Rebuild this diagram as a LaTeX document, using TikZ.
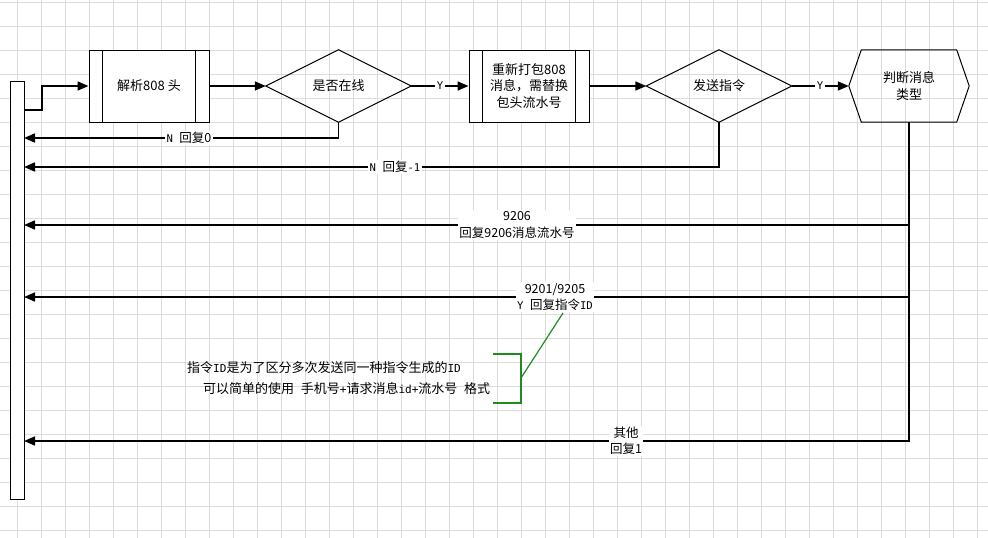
\documentclass[tikz,border=0pt]{standalone}
\usepackage{fontspec}
\setmainfont{Noto Sans CJK SC}
\newfontfamily\latn[Scale=0.85]{DejaVu Sans Mono}
\newcommand\lt[1]{{\latn #1}}
\usetikzlibrary{arrows.meta}
\definecolor{gridc}{RGB}{220,220,220}
\definecolor{notegreen}{RGB}{30,140,30}
\begin{document}
\begin{tikzpicture}[x=1pt,y=-1pt,
  font=\fontsize{13}{16.5}\selectfont,
  shapeline/.style={draw=black, line width=1pt},
  proc/.style={shapeline, fill=white, minimum width=120pt, minimum height=72pt, inner sep=0pt, align=center},
  dia/.style={minimum width=145pt, minimum height=72pt, inner sep=0pt, align=center},
  hexb/.style={minimum width=120pt, minimum height=72pt, inner sep=0pt, align=center},
  conn/.style={line width=1.6pt, -{Triangle[length=11pt,width=9pt]}},
  lbl/.style={fill=white, inner sep=1.5pt, align=center, font=\fontsize{12.5}{16.5}\selectfont},
]
% page and background grid
\useasboundingbox (0,0) rectangle (988,538);
\fill[white] (0,0) rectangle (988,538);
\foreach \i in {0,...,40}
  \draw[gridc, line width=0.8pt] ({17.5+24*\i},0) -- ({17.5+24*\i},538);
\foreach \j in {0,...,22}
  \draw[gridc, line width=0.8pt] (0,{2+24*\j}) -- (988,{2+24*\j});

% lifeline bar on the left
\node[shapeline, fill=white, minimum width=14pt, minimum height=418pt, inner sep=0pt] (bar) at (17,290) {};
\coordinate (s0) at (24,110);
\coordinate (r0) at (24,138);
\coordinate (r1) at (24,167);
\coordinate (r2) at (24,225);
\coordinate (r3) at (24,297);
\coordinate (r4) at (24,441);

% process boxes
\node[proc] (b1) at (149,86) {解析808 头};
\node[proc] (b2) at (529,86) {重新打包808\\消息，需替换\\包头流水号};
\foreach \b in {b1,b2} {
  \draw[shapeline] ([xshift=14pt]\b.north west) -- ([xshift=14pt]\b.south west);
  \draw[shapeline] ([xshift=-14pt]\b.north east) -- ([xshift=-14pt]\b.south east);
}

% decisions
\node[dia] (d1) at (338.5,86) {是否在线};
\node[dia] (d2) at (719,86) {发送指令};
\foreach \d in {d1,d2}
  \draw[shapeline] (\d.west) -- (\d.north) -- (\d.east) -- (\d.south) -- cycle;

% hexagon
\node[hexb] (hx) at (909,86) {判断消息\\类型};
\draw[shapeline] (hx.west) -- ([xshift=12.5pt]hx.north west) -- ([xshift=-12.5pt]hx.north east)
  -- (hx.east) -- ([xshift=-12.5pt]hx.south east) -- ([xshift=12.5pt]hx.south west) -- cycle;

% main flow
\draw[conn] (s0) -- ++(18,0) |- (b1.west);
\draw[conn] (b1.east) -- (d1.west);
\draw[conn] (d1.east) -- (b2.west);
\draw[conn] (b2.east) -- (d2.west);
\draw[conn] (d2.east) -- (hx.west);

% replies back to the bar
\draw[conn] (d1.south) |- (r0);
\draw[conn] (d2.south) |- (r1);
\draw[conn] (hx.south) -- (hx.south |- r4) -- (r4);
\draw[conn] (hx.south |- r2) -- (r2);
\draw[conn] (hx.south |- r3) -- (r3);

% connector labels
\node[lbl] (ly1) at (440,86) {\lt{Y}};
\node[lbl] (ly2) at (820,86) {\lt{Y}};
\node[lbl] (l0) at (189,138) {\lt{N }回复0};
\node[lbl] (l1) at (395,167) {\lt{N }回复\lt{-1}};
\node[lbl] (l2) at (517,225) {9206\\回复9206消息流水号};
\node[lbl] (l3) at (555,297) {9201/9205\\\lt{Y }回复指令\lt{ID}};
\node[lbl] (l4) at (626,441) {其他\\回复1};

% note on the command ID
\node[anchor=west, inner sep=0pt] (n1) at (187,368) {指令\lt{ID}是为了区分多次发送同一种指令生成的\lt{ID}};
\node[anchor=west, inner sep=0pt] (n2) at (203,389) {可以简单的使用\lt{ }手机号\lt{+}请求消息\lt{id+}流水号\lt{ }格式};
\coordinate (bk) at (521,378);
\coordinate (ann) at (563,313);
\draw[notegreen, line width=1.2pt] (492.5,354) -- (521,354) -- (521,403) -- (492.5,403);
\draw[notegreen, line width=1.2pt] (bk) -- (ann);
\end{tikzpicture}
\end{document}
